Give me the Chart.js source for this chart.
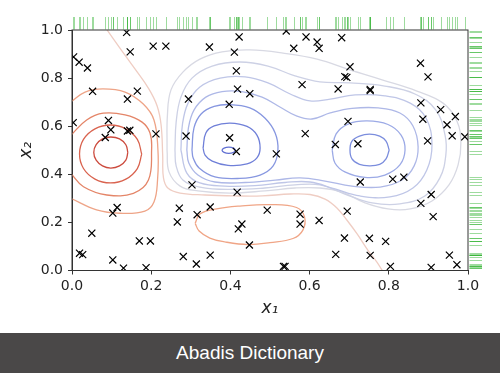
<!DOCTYPE html>
<html>
<head>
<meta charset="utf-8">
<script src="https://cdn.jsdelivr.net/npm/chart.js@4.4.1/dist/chart.umd.min.js"></script>
<style>
html,body{margin:0;padding:0;background:#fff;}
#wrap{width:500px;height:373px;position:relative;overflow:hidden;}
#c{display:block;width:500px;height:333px;}
#banner{position:absolute;left:0;top:333px;width:500px;height:40px;background:#4a4848;color:#fff;
 font-family:"Liberation Sans",Arial,sans-serif;font-size:19px;line-height:40px;text-align:center;}
</style>
</head>
<body>
<div id="wrap">
<canvas id="c" width="500" height="333"></canvas>
<div id="banner">Abadis Dictionary</div>
</div>
<script>
// ---- data ----
const x1Values = [0.138,0.004,0.018,0.039,0.147,0.205,0.237,0.347,0.410,0.422,
  0.415,0.418,0.449,0.052,0.140,0.165,0.294,0.397,0.003,0.092,
  0.098,0.084,0.140,0.146,0.212,0.288,0.398,0.415,0.541,0.591,
  0.619,0.624,0.560,0.681,0.702,0.689,0.694,0.581,0.672,0.753,
  0.753,0.880,0.899,0.881,0.931,0.886,0.968,0.947,0.960,0.992,
  0.697,0.589,0.665,0.722,0.898,0.516,0.728,0.810,0.838,0.907,
  0.881,0.912,0.493,0.576,0.576,0.624,0.695,0.688,0.751,0.792,
  0.666,0.753,0.804,0.907,0.953,0.972,0.534,0.538,0.448,0.303,
  0.417,0.271,0.266,0.316,0.349,0.420,0.429,0.103,0.114,0.050,
  0.019,0.027,0.103,0.130,0.170,0.198,0.187,0.281,0.314,0.349];
const x2Values = [0.990,0.888,0.866,0.842,0.909,0.933,0.933,0.929,0.908,0.971,
  0.830,0.754,0.735,0.745,0.713,0.746,0.713,0.691,0.615,0.624,
  0.585,0.553,0.580,0.583,0.568,0.559,0.552,0.495,0.996,0.971,
  0.950,0.924,0.924,0.968,0.847,0.806,0.803,0.773,0.755,0.753,
  0.748,0.862,0.805,0.697,0.669,0.629,0.640,0.606,0.560,0.556,
  0.620,0.569,0.524,0.527,0.539,0.485,0.368,0.380,0.388,0.316,
  0.279,0.224,0.251,0.234,0.193,0.208,0.247,0.135,0.134,0.121,
  0.067,0.063,0.017,0.013,0.064,0.024,0.017,0.017,0.106,0.356,
  0.326,0.259,0.202,0.232,0.264,0.173,0.193,0.239,0.262,0.155,
  0.072,0.066,0.044,0.010,0.123,0.123,0.012,0.058,0.027,0.064];

const tickValues = [0, 0.2, 0.4, 0.6, 0.8, 1.0];
const tickLabels = ['0.0','0.2','0.4','0.6','0.8','1.0'];

// contour vertices [x1, x2]
const contourR1 = [[0.141,0.491],[0.136,0.523],[0.120,0.547],[0.098,0.555],[0.077,0.547],[0.061,0.523],[0.055,0.491],[0.061,0.459],[0.077,0.435],[0.098,0.426],[0.120,0.435],[0.136,0.459]];
const contourR2 = [[0.176,0.484],[0.165,0.545],[0.136,0.589],[0.097,0.605],[0.058,0.589],[0.029,0.545],[0.019,0.484],[0.029,0.424],[0.058,0.380],[0.097,0.364],[0.136,0.380],[0.165,0.424]];
const contourR3 = [[-0.003,0.562],[0.037,0.626],[0.079,0.654],[0.134,0.647],[0.177,0.617],[0.197,0.572],[0.201,0.501],[0.193,0.376],[0.155,0.321],[0.088,0.314],[0.029,0.348],[-0.003,0.404]];
const contourR4 = [[-0.003,0.701],[0.033,0.742],[0.078,0.755],[0.134,0.742],[0.180,0.692],[0.207,0.626],[0.217,0.501],[0.216,0.376],[0.207,0.285],[0.184,0.247],[0.121,0.238],[0.062,0.252],[-0.003,0.300]];
const contourZero = [[0.087,1.004],[0.121,0.925],[0.159,0.838],[0.194,0.755],[0.215,0.684],[0.225,0.605],[0.229,0.480],[0.231,0.385],[0.242,0.343],[0.273,0.322],[0.336,0.314],[0.412,0.310],[0.480,0.310],[0.551,0.318],[0.601,0.316],[0.639,0.297],[0.669,0.260],[0.694,0.210],[0.720,0.152],[0.747,0.085],[0.770,0.035],[0.785,-0.004]];
const contourE = [[0.311,0.196],[0.323,0.235],[0.365,0.256],[0.424,0.268],[0.500,0.274],[0.567,0.262],[0.587,0.224],[0.583,0.168],[0.558,0.133],[0.500,0.116],[0.445,0.108],[0.386,0.119],[0.348,0.135],[0.321,0.164]];
const contourB1 = [[0.413,0.500],[0.408,0.509],[0.396,0.513],[0.384,0.509],[0.379,0.500],[0.384,0.491],[0.396,0.487],[0.408,0.491]];
const contourB2 = [[0.331,0.509],[0.338,0.572],[0.359,0.601],[0.399,0.613],[0.442,0.599],[0.467,0.563],[0.475,0.509],[0.467,0.468],[0.442,0.443],[0.394,0.437],[0.354,0.455],[0.336,0.480]];
const contourB3 = [[0.303,0.501],[0.308,0.593],[0.326,0.651],[0.359,0.682],[0.399,0.690],[0.449,0.676],[0.487,0.634],[0.513,0.572],[0.520,0.501],[0.508,0.435],[0.475,0.397],[0.424,0.383],[0.361,0.389],[0.321,0.426],[0.306,0.468]];
const contourBR1 = [[0.801,0.501],[0.793,0.538],[0.777,0.559],[0.751,0.567],[0.726,0.559],[0.707,0.538],[0.702,0.501],[0.707,0.464],[0.726,0.441],[0.751,0.435],[0.777,0.441],[0.793,0.464]];
const contourBR2 = [[0.657,0.501],[0.667,0.568],[0.697,0.609],[0.745,0.622],[0.798,0.607],[0.831,0.563],[0.841,0.501],[0.828,0.439],[0.790,0.397],[0.740,0.387],[0.689,0.410],[0.664,0.447]];
const contourP1 = [[0.290,0.501],[0.294,0.593],[0.308,0.667],[0.338,0.721],[0.379,0.744],[0.429,0.744],[0.480,0.721],[0.525,0.680],[0.568,0.642],[0.606,0.630],[0.652,0.655],[0.707,0.674],[0.773,0.676],[0.828,0.655],[0.861,0.601],[0.874,0.514],[0.864,0.435],[0.833,0.376],[0.778,0.347],[0.707,0.351],[0.639,0.372],[0.576,0.385],[0.513,0.376],[0.437,0.366],[0.361,0.368],[0.318,0.397],[0.295,0.447]];
const contourP2 = [[0.275,0.501],[0.279,0.609],[0.293,0.696],[0.323,0.763],[0.374,0.800],[0.437,0.805],[0.495,0.780],[0.551,0.734],[0.601,0.705],[0.652,0.713],[0.715,0.730],[0.790,0.726],[0.854,0.696],[0.894,0.634],[0.909,0.522],[0.896,0.418],[0.861,0.343],[0.803,0.306],[0.727,0.310],[0.664,0.339],[0.601,0.368],[0.538,0.366],[0.462,0.353],[0.386,0.351],[0.323,0.364],[0.290,0.405]];
const contourP3 = [[0.260,0.501],[0.263,0.617],[0.275,0.721],[0.303,0.800],[0.354,0.850],[0.424,0.867],[0.495,0.850],[0.563,0.809],[0.626,0.784],[0.702,0.780],[0.790,0.767],[0.866,0.734],[0.919,0.667],[0.942,0.563],[0.944,0.480],[0.929,0.385],[0.891,0.310],[0.828,0.277],[0.758,0.281],[0.689,0.318],[0.626,0.356],[0.563,0.356],[0.487,0.343],[0.399,0.337],[0.323,0.347],[0.280,0.376],[0.263,0.435]];
const contourP4 = [[0.240,0.501],[0.241,0.647],[0.250,0.751],[0.280,0.825],[0.323,0.879],[0.379,0.909],[0.449,0.917],[0.533,0.904],[0.619,0.879],[0.702,0.834],[0.785,0.792],[0.871,0.746],[0.937,0.696],[0.972,0.622],[0.982,0.530],[0.975,0.439],[0.952,0.356],[0.909,0.289],[0.854,0.256],[0.798,0.256],[0.740,0.281],[0.682,0.326],[0.626,0.343],[0.563,0.343],[0.487,0.331],[0.399,0.322],[0.318,0.331],[0.273,0.351],[0.245,0.410]];

// ---- build chart ----
function toPts(arr){ return arr.map(p => ({x:p[0], y:p[1]})); }
function contour(arr, color, closed){
  const pts = toPts(arr);
  if (closed) { pts.push({x:arr[0][0], y:arr[0][1]}); }
  return {data: pts, showLine:true, borderColor:color, borderWidth:1.3,
          pointRadius:0, pointHoverRadius:0, tension:0.4, fill:false, order:2};
}

const datasets = [
  {data: x1Values.map((v,i)=>({x:v, y:x2Values[i]})), showLine:false,
   pointStyle:'crossRot', pointRadius:5, pointBorderWidth:1.2,
   borderColor:'#000', backgroundColor:'#000', order:0},
  contour(contourR1, '#cc4b3e', true),
  contour(contourR2, '#d9634f', true),
  contour(contourR3, '#e48568', false),
  contour(contourR4, '#eea487', false),
  contour(contourZero, '#efcdc3', false),
  contour(contourE, '#f0a586', true),
  contour(contourB1, '#6170d2', true),
  contour(contourB2, '#6f7fd8', true),
  contour(contourB3, '#8797e0', true),
  contour(contourBR1, '#7b8ddd', true),
  contour(contourBR2, '#9caae6', true),
  contour(contourP1, '#aeb8e7', true),
  contour(contourP2, '#bfc6e7', true),
  contour(contourP3, '#cdd1e5', true),
  contour(contourP4, '#d8d9e3', true)
];

const rugPlugin = {
  id:'rug',
  afterDatasetsDraw(chart){
    const ctx = chart.ctx, a = chart.chartArea;
    const xs = chart.scales.x, ys = chart.scales.y;
    ctx.save();
    ctx.strokeStyle = 'rgba(40,175,40,0.45)';
    ctx.lineWidth = 1;
    x1Values.forEach(v => {
      const px = Math.round(xs.getPixelForValue(v)) + 0.5;
      ctx.beginPath(); ctx.moveTo(px, a.top - 13); ctx.lineTo(px, a.top - 0.5); ctx.stroke();
    });
    x2Values.forEach(v => {
      const py = Math.round(ys.getPixelForValue(v)) + 0.5;
      ctx.beginPath(); ctx.moveTo(a.right + 1.5, py); ctx.lineTo(a.right + 14, py); ctx.stroke();
    });
    // axes frame
    ctx.strokeStyle = '#333';
    ctx.lineWidth = 1;
    ctx.strokeRect(a.left, a.top, a.right - a.left, a.bottom - a.top);
    ctx.restore();
  }
};

const tickFont = {family:'DejaVu Sans', size:14};
function setTicks(s){ s.ticks = tickValues.map(v => ({value:v})); }

new Chart(document.getElementById('c'), {
  type:'scatter',
  data:{datasets},
  options:{
    responsive:false, animation:false, events:[],
    layout:{padding:{left:0, right:32, top:30, bottom:0}},
    plugins:{legend:{display:false}, tooltip:{enabled:false}},
    scales:{
      x:{type:'linear', min:0, max:1, position:'bottom',
        afterBuildTicks:setTicks,
        ticks:{callback:(v,i)=>tickLabels[i], font:tickFont, color:'#222', padding:3, maxRotation:0, autoSkip:false},
        grid:{display:true, drawOnChartArea:false, drawTicks:true, tickLength:4, color:'#333'},
        border:{display:true, color:'#333'},
        title:{display:true, text:'x\u2081', color:'#222',
          font:{family:'DejaVu Sans', size:17, style:'italic'}, padding:{top:0, bottom:14.5}},
        afterFit:s => { s.height = 62.5; }
      },
      y:{type:'linear', min:0, max:1, position:'left',
        afterBuildTicks:setTicks,
        ticks:{callback:(v,i)=>tickLabels[i], font:tickFont, color:'#222', padding:5, autoSkip:false},
        grid:{display:true, drawOnChartArea:false, drawTicks:true, tickLength:4, color:'#333'},
        border:{display:true, color:'#333'},
        title:{display:true, text:'x\u2082', color:'#222',
          font:{family:'DejaVu Sans', size:17, style:'italic'}, padding:{top:16, bottom:0}},
        afterFit:s => { s.width = 72; }
      }
    }
  },
  plugins:[rugPlugin]
});
</script>
</body>
</html>
